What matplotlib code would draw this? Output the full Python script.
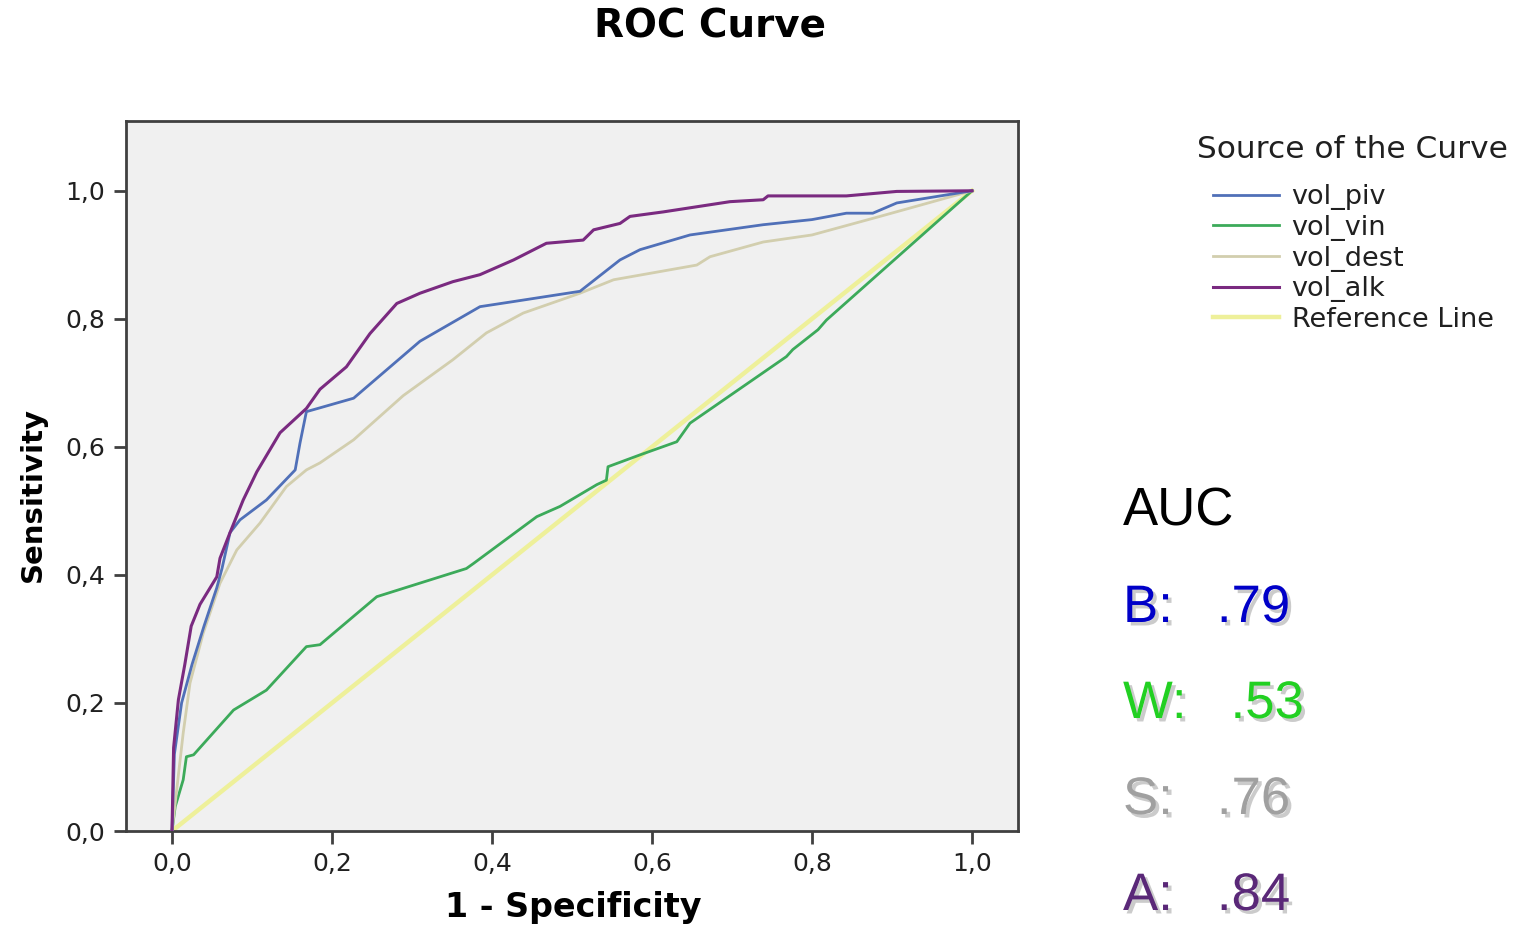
import matplotlib
matplotlib.use("Agg")
import matplotlib.pyplot as plt
import matplotlib.patheffects as pe

# ---- data ----
tick_values = [0.0, 0.2, 0.4, 0.6, 0.8, 1.0]
tick_labels = ["0,0", "0,2", "0,4", "0,6", "0,8", "1,0"]

piv_x = [0, 0.003, 0.012, 0.025, 0.04, 0.056, 0.0625, 0.0725, 0.085, 0.118, 0.154, 0.16,
         0.168, 0.185, 0.227, 0.31, 0.385, 0.427, 0.51, 0.56, 0.585, 0.6475, 0.739, 0.80,
         0.843, 0.876, 0.906, 1.0]
piv_y = [0, 0.12, 0.20, 0.26, 0.32, 0.38, 0.41, 0.466, 0.486, 0.517, 0.564, 0.606,
         0.655, 0.661, 0.676, 0.765, 0.819, 0.827, 0.843, 0.892, 0.908, 0.931, 0.947, 0.955,
         0.965, 0.965, 0.981, 1.0]

vin_x = [0, 0.004, 0.014, 0.018, 0.027, 0.077, 0.118, 0.168, 0.185, 0.256, 0.368, 0.377,
         0.456, 0.485, 0.531, 0.543, 0.545, 0.585, 0.631, 0.6475, 0.768, 0.776, 0.8075,
         0.818, 1.0]
vin_y = [0, 0.038, 0.08, 0.116, 0.119, 0.189, 0.22, 0.288, 0.291, 0.366, 0.41, 0.418,
         0.491, 0.507, 0.541, 0.548, 0.569, 0.5875, 0.608, 0.637, 0.741, 0.752, 0.783,
         0.798, 1.0]

dest_x = [0, 0.014, 0.0225, 0.039, 0.06, 0.081, 0.11, 0.143, 0.168, 0.185, 0.227, 0.289,
          0.351, 0.364, 0.393, 0.439, 0.51, 0.552, 0.656, 0.6725, 0.739, 0.80, 0.885, 1.0]
dest_y = [0, 0.153, 0.231, 0.309, 0.387, 0.439, 0.481, 0.538, 0.564, 0.575, 0.611, 0.68,
          0.736, 0.749, 0.778, 0.809, 0.84, 0.861, 0.884, 0.897, 0.92, 0.931, 0.96, 1.0]

alk_x = [0, 0.002, 0.008, 0.016, 0.024, 0.035, 0.056, 0.06, 0.0725, 0.089, 0.106, 0.135,
         0.168, 0.185, 0.218, 0.2475, 0.281, 0.31, 0.351, 0.385, 0.427, 0.468, 0.514, 0.527,
         0.56, 0.5725, 0.614, 0.6975, 0.739, 0.745, 0.843, 0.906, 1.0]
alk_y = [0, 0.13, 0.205, 0.26, 0.32, 0.354, 0.397, 0.426, 0.466, 0.517, 0.561, 0.622,
         0.66, 0.69, 0.725, 0.777, 0.824, 0.84, 0.858, 0.869, 0.892, 0.918, 0.923, 0.939,
         0.949, 0.96, 0.967, 0.983, 0.986, 0.992, 0.992, 0.999, 1.0]

ref_x = [0.0, 1.0]
ref_y = [0.0, 1.0]

auc_labels = ["B:   .79", "W:   .53", "S:   .76", "A:   .84"]
auc_colors = ["#0000C8", "#22D022", "#A0A0A0", "#5A2878"]

# ---- figure ----
W, H = 1526, 926
fig = plt.figure(figsize=(W/100, H/100), dpi=100)
fig.patch.set_facecolor("white")
ax = fig.add_axes([126/W, 1-831/H, (1018-126)/W, (831-121)/H])
ax.set_facecolor("#F0F0F0")

ax.plot(ref_x, ref_y, color="#EEF09A", lw=3.2, label="Reference Line", zorder=2)
ax.plot(vin_x, vin_y, color="#3CAA5A", lw=2.0, label="vol_vin", zorder=3)
ax.plot(dest_x, dest_y, color="#D2CEAE", lw=2.0, label="vol_dest", zorder=3)
ax.plot(piv_x, piv_y, color="#5070B8", lw=2.0, label="vol_piv", zorder=4)
ax.plot(alk_x, alk_y, color="#7A2A80", lw=2.2, label="vol_alk", zorder=5)

ax.set_xlim(-0.0575, 1.0575)
ax.set_ylim(0.0, 1.109)
ax.set_xticks(tick_values)
ax.set_xticklabels(tick_labels)
ax.set_yticks(tick_values)
ax.set_yticklabels(tick_labels)
ax.tick_params(direction="out", length=9, width=2, color="#404040",
               labelsize=18, labelcolor="#202020", pad=6)
for s in ax.spines.values():
    s.set_color("#404040")
    s.set_linewidth(2)

ax.set_xlabel("1 - Specificity", fontsize=24, fontweight="bold")
ax.xaxis.set_label_coords((573-126)/892, (831-907)/710)
ax.xaxis.label.set_va("center")
ax.set_ylabel("Sensitivity", fontsize=21, fontweight="bold")
ax.yaxis.set_label_coords((33-126)/892, (831-494)/710)
ax.yaxis.label.set_va("center")

fig.text(710/W, 1-27/H, "ROC Curve", fontsize=28, fontweight="bold",
         ha="center", va="center")

handles, labels = ax.get_legend_handles_labels()
order = ["vol_piv", "vol_vin", "vol_dest", "vol_alk", "Reference Line"]
hmap = dict(zip(labels, handles))
fig.text(1197/W, 1-150/H, "Source of the Curve", fontsize=22.5,
         ha="left", va="center", color="#202020")
leg = fig.legend([hmap[k] for k in order], order, loc="center left",
                 bbox_to_anchor=(1213/W, 1-258.5/H), frameon=False,
                 fontsize=19.5, borderaxespad=0, borderpad=0,
                 handlelength=2.45, handletextpad=0.45, labelspacing=0.17)
for t in leg.get_texts():
    t.set_color("#202020")

fig.text(1123/W, 1-525/H, "AUC", fontsize=38, color="black",
         family="Liberation Sans", va="baseline", ha="left")
baselines = [622, 718, 814, 910]
for lab, col, b in zip(auc_labels, auc_colors, baselines):
    fig.text(1123/W, 1-b/H, lab, fontsize=38, color=col,
             family="Liberation Sans", va="baseline", ha="left",
             path_effects=[pe.withSimplePatchShadow(offset=(2.5, -2.5),
                                                    shadow_rgbFace="#999999",
                                                    alpha=0.5)])

fig.savefig("out.png", dpi=100)
